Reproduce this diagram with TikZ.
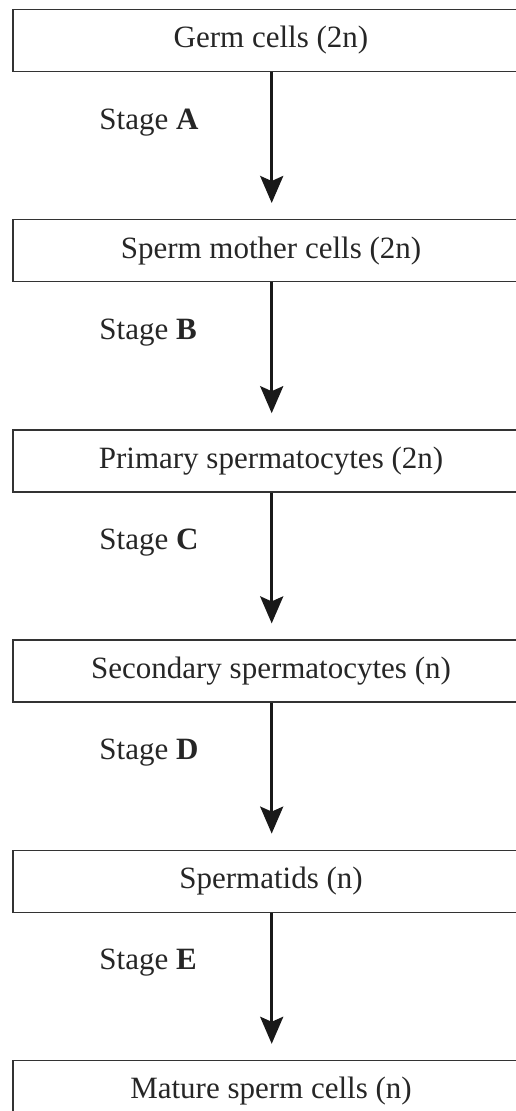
\documentclass[tikz,border=0pt]{standalone}
\usepackage{fontspec}
\setmainfont{Liberation Serif}
\usetikzlibrary{arrows.meta, positioning}
\tikzstyle{arrow} = [line width=1.5pt, black!90, -{Stealth[length=13.5pt, width=11.5pt, inset=2.5pt]}, shorten >=8pt]

\begin{document}
\begin{tikzpicture}[x=0.5pt, y=-0.5pt,
    cellbox/.style={draw=black!80, line width=0.7pt, minimum width=258pt,
                    minimum height=31pt, inner sep=0pt,
                    font=\fontsize{15.5}{18}\selectfont, text=black!85},
    stagelbl/.style={anchor=west, inner sep=0pt,
                     font=\fontsize{15.5}{18}\selectfont, text=black!85},
    node distance=73.4pt]
    \useasboundingbox (0,0) rectangle (515,1111);

    % Cell boxes, top to bottom (right edge runs off the page)
    \node[cellbox] (germ) at (271,40.5) {Germ cells (2n)};
    \node[cellbox, below=of germ]      (mother)    {Sperm mother cells (2n)};
    \node[cellbox, below=of mother]    (primary)   {Primary spermatocytes (2n)};
    \node[cellbox, below=of primary]   (secondary) {Secondary spermatocytes (n)};
    \node[cellbox, below=of secondary] (spermatid) {Spermatids (n)};
    \node[cellbox, below=of spermatid] (mature)    {Mature sperm cells (n)};

    % Arrows and stage labels between the boxes
    \coordinate (ax) at (271.7,0);
    \coordinate (lx) at (99,0);
    \foreach \from/\to/\stg in {
        germ/mother/A,
        mother/primary/B,
        primary/secondary/C,
        secondary/spermatid/D,
        spermatid/mature/E}{
      \draw[arrow] (\from.south -| ax) -- (\to.north -| ax);
      \path (lx |- \from.south) ++(0,50) node[stagelbl] (stage\stg) {Stage \textbf{\stg}};
    }
\end{tikzpicture}
\end{document}
